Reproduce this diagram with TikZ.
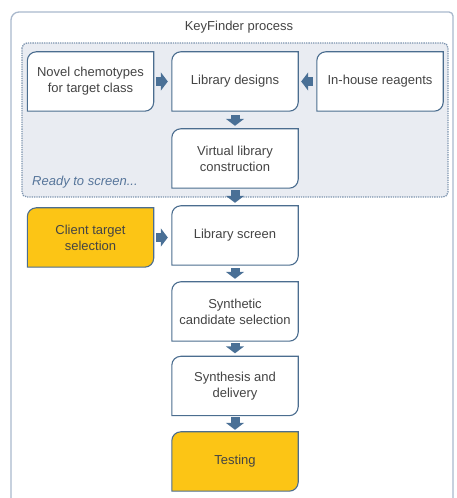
\documentclass[tikz,border=0pt]{standalone}
\usepackage{fontspec}
\setmainfont{Liberation Sans}
\usetikzlibrary{arrows.meta,calc,backgrounds}
\definecolor{boxc}{HTML}{4B6D8F}
\definecolor{arrowc}{HTML}{4A7096}
\definecolor{textc}{HTML}{444444}
\definecolor{goldc}{HTML}{FCC515}
\definecolor{dotfill}{HTML}{E9ECF2}
\definecolor{dotc}{HTML}{7C93AE}
\definecolor{framec}{HTML}{A9B8CC}
\definecolor{readyc}{HTML}{56759A}
\newcommand\kfbox[2]{%
  \draw[boxc, line width=1.1pt, fill=#2]
    ($(#1.north west)+(0,-9pt)$) arc[start angle=180,end angle=90,radius=9pt]
    -- (#1.north east) -- ($(#1.south east)+(0,9pt)$)
    arc[start angle=0,end angle=-90,radius=9pt] -- (#1.south west) -- cycle;}
\begin{document}
\begin{tikzpicture}[x=1pt,y=1pt,
  txt/.style={font=\fontsize{13}{16}\selectfont, text=textc, align=center},
  kbox/.style={txt, minimum width=126pt, minimum height=59pt, inner sep=0pt},
  barrow/.style={draw=arrowc, line width=9pt, -{Triangle[length=7pt,width=18pt,fill=arrowc]}}]
\useasboundingbox (0,0) rectangle (456,498);
\node[txt] (title) at (239,471) {KeyFinder process};
\node[kbox] (novel) at (90.5,416.5) {Novel chemotypes\\for target class};
\node[kbox] (lib) at (235,416.5) {Library designs};
\node[kbox] (inh) at (380,416.5) {In-house reagents};
\node[kbox] (virt) at (235,339.5) {Virtual library\\construction};
\node[txt, text=readyc, font=\fontsize{13}{16}\selectfont\itshape, anchor=west, inner sep=0pt] (ready) at (32,316) {Ready to screen...};
\node[kbox] (client) at (90.5,260.5) {Client target\\selection};
\node[kbox] (screen) at (235,262.5) {Library screen};
\node[kbox] (cand) at (235,186.5) {Synthetic\\candidate selection};
\node[kbox] (synth) at (235,112) {Synthesis and\\delivery};
\node[kbox] (test) at (235,36.5) {Testing};
\begin{scope}[on background layer]
  \draw[framec, line width=1.3pt] (11,-3) -- (11,478) arc[start angle=180,end angle=90,radius=8pt]
     -- (449,486) arc[start angle=90,end angle=0,radius=4pt] -- (453,-3);
  \draw[dotc, densely dotted, line width=1.3pt, fill=dotfill, rounded corners=5pt] (22,455) rectangle (448,301);
  \kfbox{novel}{white}
  \kfbox{lib}{white}
  \kfbox{inh}{white}
  \kfbox{virt}{white}
  \kfbox{client}{goldc}
  \kfbox{screen}{white}
  \kfbox{cand}{white}
  \kfbox{synth}{white}
  \kfbox{test}{goldc}
\end{scope}
\draw[barrow, shorten <=2.5pt, shorten >=4pt] (novel.east) -- (lib.west);
\draw[barrow, shorten <=4pt, shorten >=3pt] (inh.west) -- (lib.east);
\draw[barrow, shorten <=4pt, shorten >=3pt] (lib.south) -- (virt.north);
\draw[barrow, shorten <=2pt, shorten >=3pt] (virt.south) -- (screen.north);
\draw[barrow, shorten <=2.5pt, shorten >=4pt] (client.east) -- (client.east -| screen.west);
\draw[barrow, shorten <=3pt, shorten >=3pt] (screen.south) -- (cand.north);
\draw[barrow, shorten <=2pt, shorten >=3pt] (cand.south) -- (synth.north);
\draw[barrow, shorten <=1.5pt, shorten >=2pt] (synth.south) -- (test.north);
\end{tikzpicture}
\end{document}
